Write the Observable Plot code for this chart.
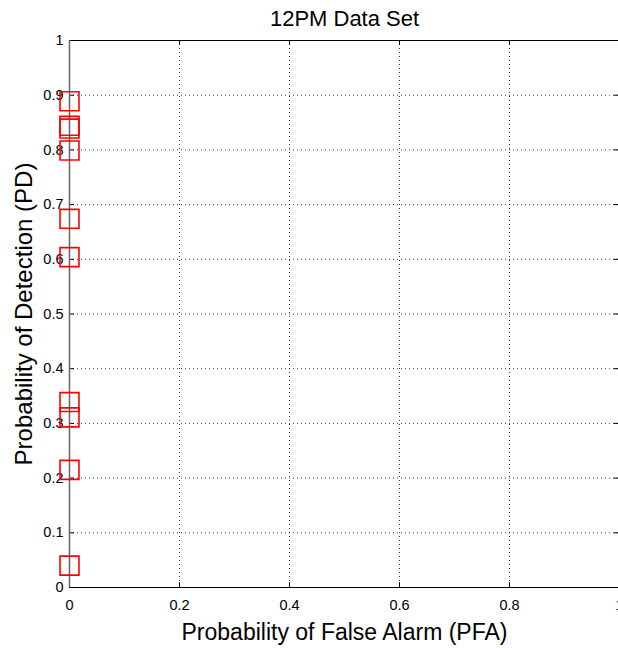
<!DOCTYPE html>
<html>
<head>
<meta charset="utf-8">
<script src="https://cdn.jsdelivr.net/npm/d3@7"></script>
<script src="https://cdn.jsdelivr.net/npm/@observablehq/plot@0.6"></script>
<style>
  html, body { margin: 0; padding: 0; background: #fff; overflow: hidden; }
</style>
</head>
<body>
<div id="chart"></div>
<script>
// Data
const pfa = [0, 0, 0, 0, 0, 0, 0, 0, 0, 0];
const pd  = [0.889, 0.844, 0.839, 0.799, 0.674, 0.604, 0.339, 0.311, 0.215, 0.040];

const xTicks = [0, 0.2, 0.4, 0.6, 0.8, 1];
const yTicks = [0, 0.1, 0.2, 0.3, 0.4, 0.5, 0.6, 0.7, 0.8, 0.9, 1];
const xGrid = [0.2, 0.4, 0.6, 0.8];
const yGrid = [0.1, 0.2, 0.3, 0.4, 0.5, 0.6, 0.7, 0.8, 0.9];

const title = "12PM Data Set";
const xLabel = "Probability of False Alarm (PFA)";
const yLabel = "Probability of Detection (PD)";

const points = pfa.map((x, i) => ({pfa: x, pd: pd[i]}));

const W = 618, H = 648;
const mL = 69, mR = -1, mT = 40, mB = 61;
const plotW = W - mL - mR, plotH = H - mT - mB;
const tickLen = 5;

const chart = Plot.plot({
  width: W,
  height: H,
  marginLeft: mL,
  marginRight: mR,
  marginTop: mT,
  marginBottom: mB,
  x: {domain: [0, 1]},
  y: {domain: [0, 1]},
  style: {fontFamily: "'Liberation Sans', Arial, sans-serif", fontSize: "14.5px", color: "#000", background: "#fff", overflow: "hidden"},
  marks: [
    Plot.ruleY(yGrid, {y: d => d, stroke: "#000", strokeOpacity: 0.75, strokeDasharray: "1,3"}),
    Plot.ruleX(xGrid, {x: d => d, stroke: "#000", strokeOpacity: 0.75, strokeDasharray: "1,3"}),
    Plot.ruleX([1], {x: d => d, stroke: "#000"}),
    Plot.ruleY([0], {y: d => d, stroke: "#000"}),
    Plot.ruleY([1], {y: d => d, stroke: "#000"}),
    Plot.tickY(yTicks, {y: d => d, insetRight: plotW - tickLen, stroke: "#000"}),
    Plot.tickY(yTicks, {y: d => d, insetLeft: plotW - tickLen, stroke: "#000"}),
    Plot.tickX(xTicks, {x: d => d, insetTop: plotH - tickLen, stroke: "#000"}),
    Plot.tickX(xTicks, {x: d => d, insetBottom: plotH - tickLen, stroke: "#000"}),
    Plot.ruleX([0], {x: d => d, stroke: "#666", strokeWidth: 1.5}),
    Plot.axisY({ticks: yTicks, tickSize: 0, tickPadding: 6, tickFormat: d => String(d), label: null, fontSize: 14.5}),
    Plot.axisX({ticks: xTicks, tickSize: 0, tickPadding: 12, tickFormat: d => String(d), label: null, fontSize: 14.5}),
    Plot.dot(points, {x: "pfa", y: "pd", symbol: "square", r: 10.7, stroke: "#ff0000", strokeWidth: 1.6, fill: "none"}),
    Plot.text([title], {frameAnchor: "top", textAnchor: "middle", lineAnchor: "middle", dy: -22, fontSize: 22}),
    Plot.text([xLabel], {frameAnchor: "bottom", textAnchor: "middle", lineAnchor: "middle", dy: 45, fontSize: 23}),
    Plot.text([yLabel], {frameAnchor: "left", textAnchor: "middle", lineAnchor: "middle", dx: -45, rotate: -90, fontSize: 24})
  ]
});
document.getElementById("chart").appendChild(chart);
</script>
</body>
</html>
